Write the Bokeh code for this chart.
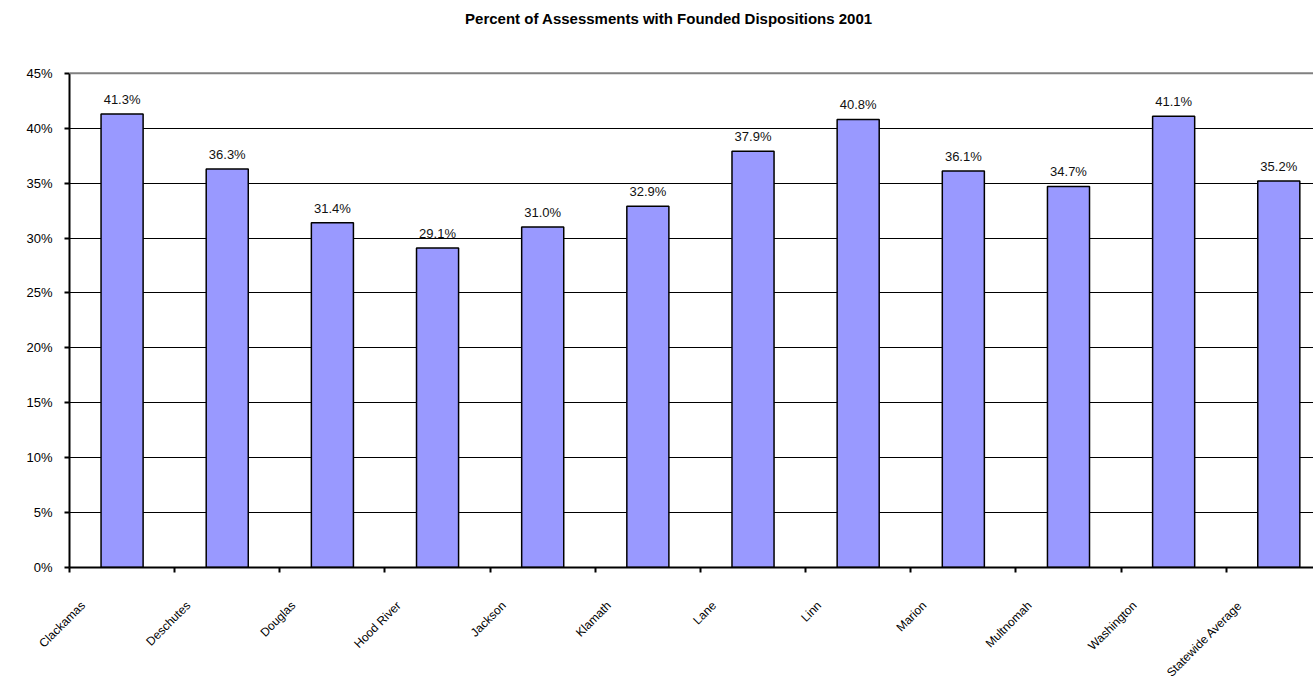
import math
from bokeh.plotting import figure
from bokeh.models import (ColumnDataSource, FixedTicker, PrintfTickFormatter,
                          CustomJSTickFormatter, Range1d, Span)
from bokeh.core.properties import value
from bokeh.embed import file_html
from bokeh.resources import INLINE

# Founded-disposition rate by county, 2001
counties = ["Clackamas", "Deschutes", "Douglas", "Hood River", "Jackson",
            "Klamath", "Lane", "Linn", "Marion", "Multnomah", "Washington",
            "Statewide Average"]
percent_founded = [41.3, 36.3, 31.4, 29.1, 31.0, 32.9, 37.9, 40.8, 36.1,
                   34.7, 41.1, 35.2]
y_ticks = [0, 5, 10, 15, 20, 25, 30, 35, 40, 45]
title_text = "Percent of Assessments with Founded Dispositions 2001"

FONT = "Liberation Sans"

centers = [i + 0.5 for i in range(len(counties))]
src = ColumnDataSource(dict(
    x=centers,
    top=percent_founded,
    label=[f"{v:.1f}%" for v in percent_founded],
))

# the plotting area runs to the top of the canvas so the title can sit in it;
# the value axis itself stops at 45%
y_max = y_ticks[-1]
p = figure(width=1313, height=687, output_backend="svg", toolbar_location=None,
           x_range=Range1d(0, 11.83), y_range=Range1d(0, y_max + 73 / 11),
           min_border_left=69, min_border_right=0, min_border_top=0,
           min_border_bottom=119)

p.outline_line_color = None
p.background_fill_color = "white"
p.border_fill_color = "white"

# chart title
p.text(x=[5.70], y=[y_max + (73 - 18.5) / 11], text=[title_text],
       text_align="center", text_baseline="middle", text_font=value(FONT),
       text_font_size="15px", text_font_style="bold", text_color="black")

# bars
p.vbar(x="x", top="top", width=0.4, source=src, fill_color="#9999FF",
       line_color="black", line_width=1.5)

# value labels above each bar
p.text(x="x", y="top", text="label", source=src, text_align="center",
       text_baseline="bottom", y_offset=-7, text_font=value(FONT),
       text_font_size="13px", text_color="#111111")

# horizontal grid
p.xgrid.visible = False
p.ygrid.ticker = FixedTicker(ticks=y_ticks[1:-1])
p.ygrid.grid_line_color = "black"
p.ygrid.grid_line_width = 1
p.add_layout(Span(location=y_max, dimension="width",
                  line_color="#808080", line_width=2))

# y axis
ya = p.yaxis[0]
ya.bounds = (0, y_max)
ya.ticker = FixedTicker(ticks=y_ticks)
ya.formatter = PrintfTickFormatter(format="%d%%")
ya.axis_line_color = "black"
ya.axis_line_width = 2
ya.major_tick_line_color = "black"
ya.major_tick_line_width = 2
ya.major_tick_out = 5
ya.major_tick_in = 0
ya.minor_tick_line_color = None
ya.major_label_text_font = FONT
ya.major_label_text_font_size = "13px"
ya.major_label_text_color = "black"
ya.major_label_standoff = 12

# x axis: tick marks on category boundaries, labels near each category's left
xa = p.xaxis[0]
xa.ticker = FixedTicker(ticks=[i + 0.13 for i in range(len(counties))],
                        minor_ticks=list(range(len(counties) + 1)))
xa.formatter = CustomJSTickFormatter(args=dict(names=counties),
                                     code="return names[Math.floor(tick)] || ''")
xa.axis_line_color = "black"
xa.axis_line_width = 2
xa.major_tick_line_color = None
xa.minor_tick_line_color = "black"
xa.minor_tick_line_width = 2
xa.minor_tick_out = 5
xa.minor_tick_in = 0
xa.major_label_orientation = math.pi / 4
xa.major_label_text_font = FONT
xa.major_label_text_font_size = "12px"
xa.major_label_text_color = "black"
xa.major_label_standoff = 30

open("out.html", "w").write(file_html(p, INLINE))
